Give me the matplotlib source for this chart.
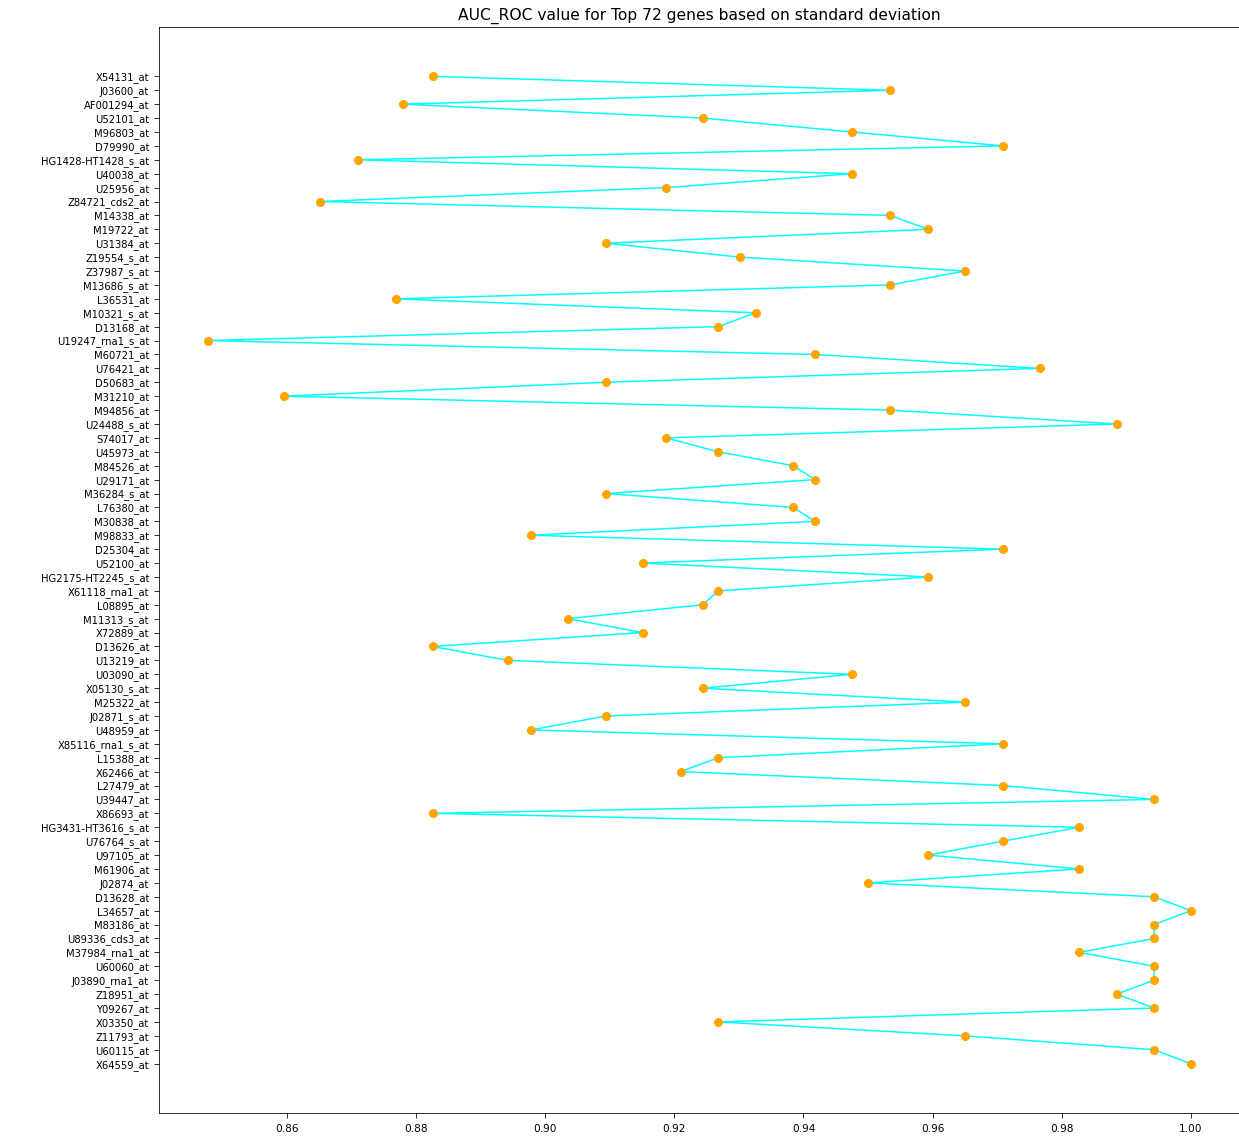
import numpy as np
import matplotlib
matplotlib.use("Agg")
import matplotlib.pyplot as plt

genes = [
    "X54131_at", "J03600_at", "AF001294_at", "U52101_at", "M96803_at", "D79990_at",
    "HG1428-HT1428_s_at", "U40038_at", "U25956_at", "Z84721_cds2_at", "M14338_at",
    "M19722_at", "U31384_at", "Z19554_s_at", "Z37987_s_at", "M13686_s_at", "L36531_at",
    "M10321_s_at", "D13168_at", "U19247_rna1_s_at", "M60721_at", "U76421_at",
    "D50683_at", "M31210_at", "M94856_at", "U24488_s_at", "S74017_at", "U45973_at",
    "M84526_at", "U29171_at", "M36284_s_at", "L76380_at", "M30838_at", "M98833_at",
    "D25304_at", "U52100_at", "HG2175-HT2245_s_at", "X61118_rna1_at", "L08895_at",
    "M11313_s_at", "X72889_at", "D13626_at", "U13219_at", "U03090_at", "X05130_s_at",
    "M25322_at", "J02871_s_at", "U48959_at", "X85116_rna1_s_at", "L15388_at",
    "X62466_at", "L27479_at", "U39447_at", "X86693_at", "HG3431-HT3616_s_at",
    "U76764_s_at", "U97105_at", "M61906_at", "J02874_at", "D13628_at", "L34657_at",
    "M83186_at", "U89336_cds3_at", "M37984_rna1_at", "U60060_at", "J03890_rna1_at",
    "Z18951_at", "Y09267_at", "X03350_at", "Z11793_at", "U60115_at", "X64559_at",
]

auc = [
    0.8826, 0.9534, 0.8780, 0.9244, 0.9475, 0.9709,
    0.8710, 0.9475, 0.9187, 0.8651, 0.9534,
    0.9593, 0.9094, 0.9302, 0.9650, 0.9534, 0.8769,
    0.9326, 0.9268, 0.8478, 0.9418, 0.9766,
    0.9094, 0.8595, 0.9534, 0.9885, 0.9187, 0.9268,
    0.9384, 0.9418, 0.9094, 0.9384, 0.9418, 0.8978,
    0.9709, 0.9151, 0.9593, 0.9268, 0.9244,
    0.9035, 0.9151, 0.8826, 0.8942, 0.9475, 0.9244,
    0.9650, 0.9094, 0.8978, 0.9709, 0.9268,
    0.9210, 0.9709, 0.9943, 0.8826, 0.9827,
    0.9709, 0.9593, 0.9827, 0.9500, 0.9943, 1.0000,
    0.9943, 0.9943, 0.9827, 0.9943, 0.9943,
    0.9885, 0.9943, 0.9268, 0.9650, 0.9943, 1.0000,
]

fig = plt.figure(figsize=(1239 / 72, 1141 / 72), dpi=72)
ax = fig.add_axes([159 / 1239, 28 / 1141, 1081 / 1239, 1086 / 1141])

ax.plot(auc, genes, color="cyan", marker="o", markersize=8,
        markerfacecolor="orange", markeredgecolor="orange")
ax.invert_yaxis()
ax.set_xticks([0.86, 0.88, 0.90, 0.92, 0.94, 0.96, 0.98, 1.00])
ax.tick_params(axis="y", length=5, pad=5, labelsize=10)
ax.tick_params(axis="x", length=5, pad=6, labelsize=10.5)
ax.set_title("AUC_ROC value for Top 72 genes based on standard deviation",
             fontsize=15.5, pad=7)

fig.savefig("out.png", dpi=72)
